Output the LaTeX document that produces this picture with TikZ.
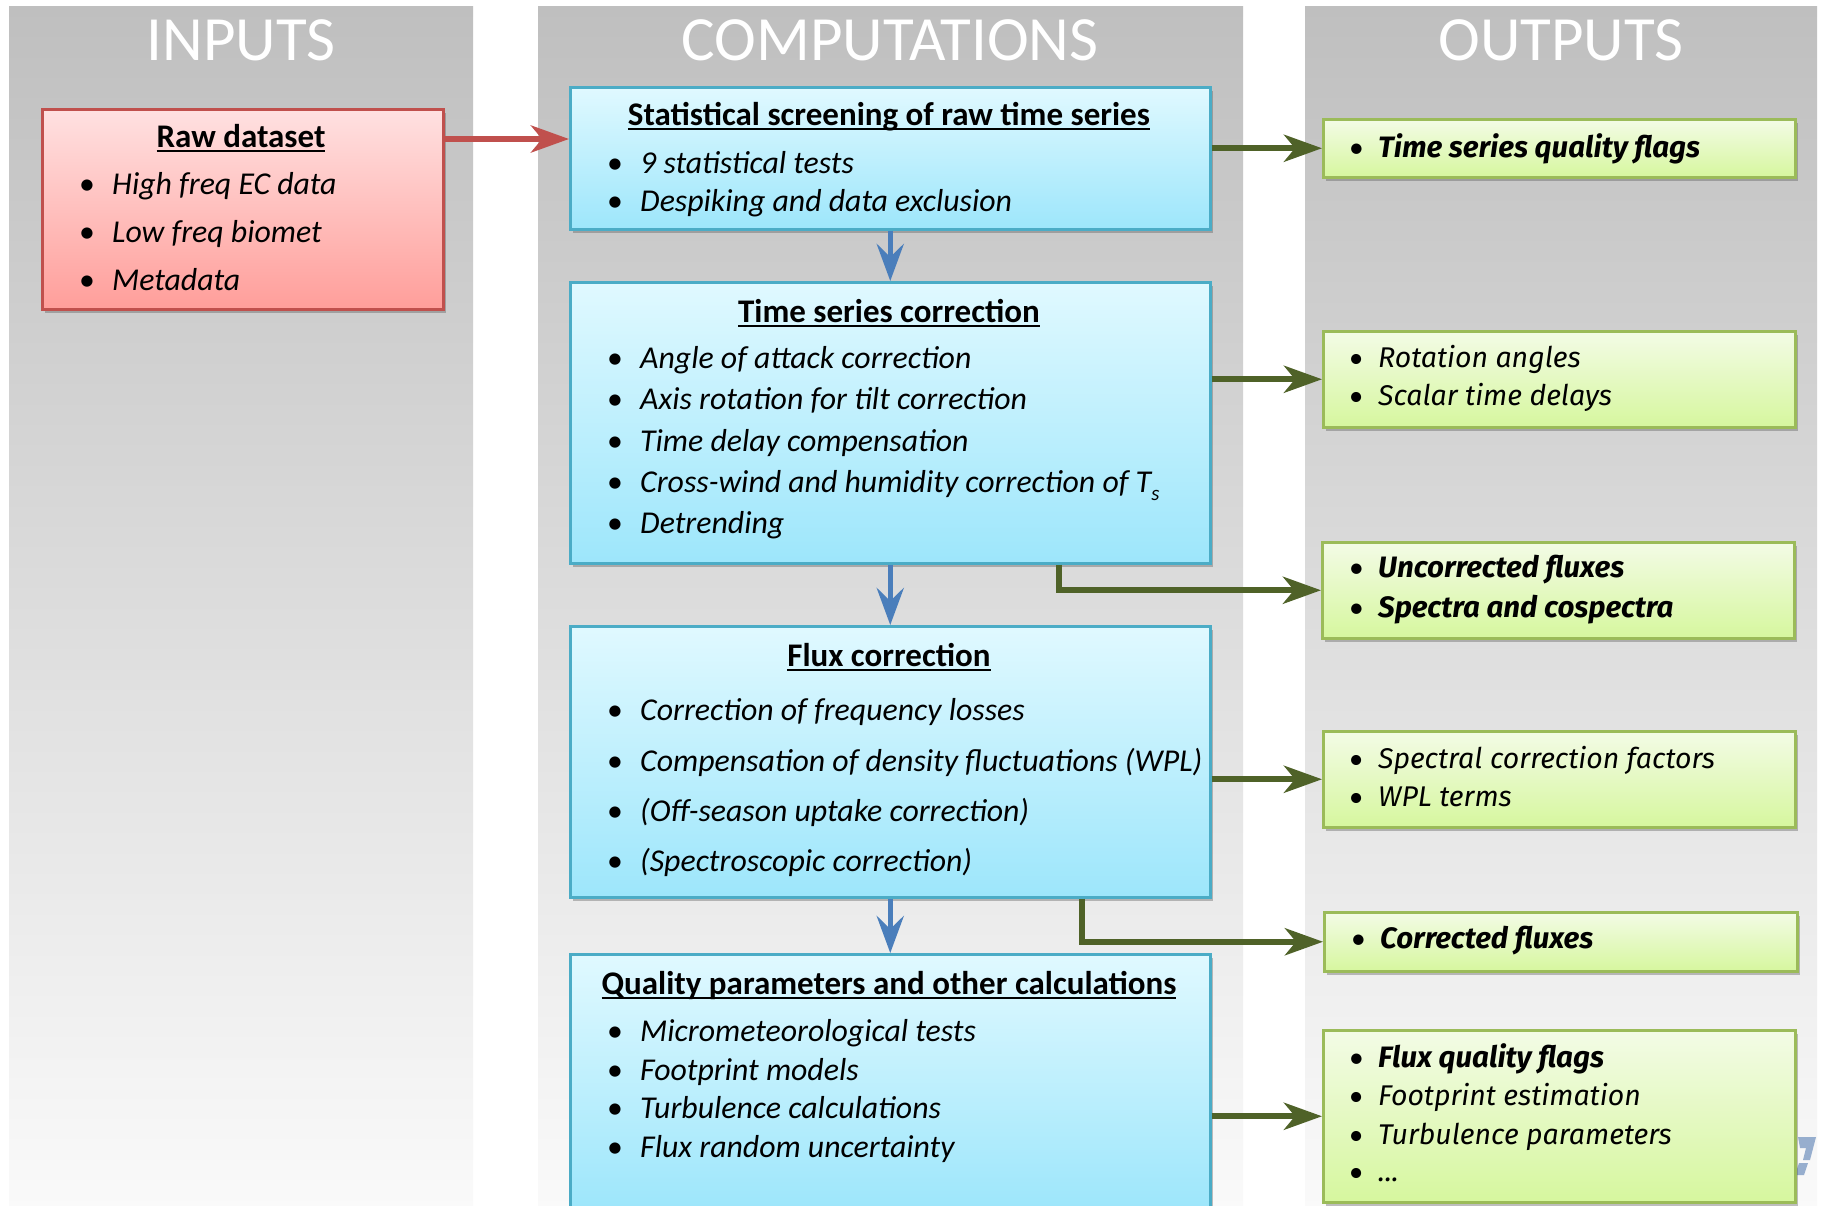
\documentclass[tikz,border=0pt]{standalone}
\usepackage{fontspec}
\setmainfont{Carlito}
\newfontfamily\outfont{Fira Sans}
\usetikzlibrary{arrows.meta,shadows,calc}
\definecolor{colgrayT}{HTML}{BFBFBF}
\definecolor{colgrayB}{HTML}{FAFAFA}
\definecolor{blueT}{HTML}{E0F9FF}
\definecolor{blueB}{HTML}{9DE6FB}
\definecolor{blueBd}{HTML}{4BACC6}
\definecolor{redT}{HTML}{FFE1E1}
\definecolor{redB}{HTML}{FF9E9A}
\definecolor{redBd}{HTML}{C0504D}
\definecolor{grnT}{HTML}{F3FBE6}
\definecolor{grnB}{HTML}{D6F79E}
\definecolor{grnBd}{HTML}{9BBB59}
\definecolor{grnAr}{HTML}{4F6228}
\definecolor{bluAr}{HTML}{4A7EBB}
\definecolor{logoC}{HTML}{7F9CC4}
\newcommand\ttlu[1]{\setbox0\hbox{#1}\rlap{\rule[-4.5pt]{\wd0}{2pt}}\box0}
\newcommand\bul[1]{\makebox[27pt][l]{\kern-6pt\upshape\textbullet}#1}
\newcommand\obul[1]{\makebox[26pt][l]{\kern-3pt{\fontspec{Carlito}\upshape\mdseries\textbullet}}#1}
\begin{document}
\begin{tikzpicture}[x=1pt,y=-1pt,
  colbg/.style={rectangle,inner sep=0,draw=none,top color=colgrayT,bottom color=colgrayB,anchor=north west},
  hdr/.style={anchor=base,inner sep=0,text=white,font=\fontsize{63}{63}\selectfont},
  shd/.style={drop shadow={shadow xshift=3pt,shadow yshift=-4pt,opacity=0.35,fill=black!70}},
  bluebox/.style={rectangle,inner sep=0,anchor=north west,draw=blueBd,line width=2.5pt,top color=blueT,bottom color=blueB,minimum width=640pt,shd},
  redbox/.style={rectangle,inner sep=0,anchor=north west,draw=redBd,line width=2.5pt,top color=redT,bottom color=redB,shd},
  grnbox/.style={rectangle,inner sep=0,anchor=north west,draw=grnBd,line width=2.5pt,top color=grnT,bottom color=grnB,minimum width=472pt,shd},
  ttl/.style={anchor=base,inner sep=0,font=\fontsize{33}{33}\selectfont\bfseries},
  itm/.style={anchor=base west,inner sep=0,font=\fontsize{31.8}{31.8}\selectfont\itshape},
  oitm/.style={anchor=base west,inner sep=0,font=\outfont\fontsize{28.5}{28.5}\selectfont\itshape},
  oitmb/.style={oitm,font=\outfont\fontsize{29.5}{29.5}\selectfont\itshape\bfseries},
  grnar/.style={draw=grnAr,line width=6pt,-{Stealth[length=38pt,width=27pt,inset=11pt]}},
  bluar/.style={draw=bluAr,line width=5.5pt,-{Stealth[length=37pt,width=27pt,inset=13pt]}},
  redar/.style={draw=redBd,line width=6pt,-{Stealth[length=38pt,width=27pt,inset=11pt]}}
]
\useasboundingbox[fill=white] (0,0) rectangle (1822,1205);
% columns
\node[colbg,minimum width=464pt,minimum height=1204pt] (cIn) at (9,6) {};
\node[colbg,minimum width=705pt,minimum height=1204pt] (cComp) at (538,6) {};
\node[colbg,minimum width=512pt,minimum height=1204pt] (cOut) at (1305,6) {};
\node[hdr] (hIn) at (241,60) {INPUTS};
\node[hdr] (hComp) at (890,60) {COMPUTATIONS};
\node[hdr] (hOut) at (1561,60) {OUTPUTS};
% logo fragment
\fill[logoC,opacity=0.8] (1798,1137) -- (1816,1137) -- (1810,1160) -- (1803,1160) -- (1806,1148) -- (1800,1148) -- cycle;
\fill[logoC,opacity=0.8] (1799,1163) -- (1808,1163) -- (1804,1175) -- (1795,1175) -- cycle;
% input
\node[redbox,minimum width=401pt,minimum height=200pt] (raw) at (41,108) {};
\node[ttl] (rawT) at (241,147) {\ttlu{Raw dataset}};
\node[itm] (raw1) at (85,194) {\bul{High freq EC data}};
\node[itm] (raw2) at (85,242) {\bul{Low freq biomet}};
\node[itm] (raw3) at (85,290) {\bul{Metadata}};
% computations
\node[bluebox,minimum height=142pt] (stat) at (569,86) {};
\node[ttl] (statT) at (889,125) {\ttlu{Statistical screening of raw time series}};
\node[itm] (stat1) at (613,173) {\bul{9 statistical tests}};
\node[itm] (stat2) at (613,211) {\bul{Despiking and data exclusion}};

\node[bluebox,minimum height=281pt] (tsc) at (569,281) {};
\node[ttl] (tscT) at (889,322) {\ttlu{Time series correction}};
\node[itm] (tsc1) at (613,368) {\bul{Angle of attack correction}};
\node[itm] (tsc2) at (613,409) {\bul{Axis rotation for tilt correction}};
\node[itm] (tsc3) at (613,451) {\bul{Time delay compensation}};
\node[itm] (tsc4) at (613,492) {\bul{Cross-wind and humidity correction of T\raisebox{-8pt}{\fontsize{21}{21}\selectfont s}}};
\node[itm] (tsc5) at (613,533) {\bul{Detrending}};

\node[bluebox,minimum height=271pt] (flux) at (569,625) {};
\node[ttl] (fluxT) at (889,666) {\ttlu{Flux correction}};
\node[itm] (flux1) at (613,720) {\bul{Correction of frequency losses}};
\node[itm] (flux2) at (613,771) {\bul{Compensation of density fluctuations (WPL)}};
\node[itm] (flux3) at (613,821) {\bul{(Off-season uptake correction)}};
\node[itm] (flux4) at (613,871) {\bul{(Spectroscopic correction)}};

\node[bluebox,minimum height=256pt] (qual) at (569,953) {};
\node[ttl] (qualT) at (889,994) {\ttlu{Quality parameters and other calculations}};
\node[itm] (qual1) at (613,1041) {\bul{Micrometeorological tests}};
\node[itm] (qual2) at (613,1080) {\bul{Footprint models}};
\node[itm] (qual3) at (613,1118) {\bul{Turbulence calculations}};
\node[itm] (qual4) at (613,1157) {\bul{Flux random uncertainty}};
% outputs
\node[grnbox,minimum height=58pt] (o1) at (1322,118) {};
\node[oitmb] (o1a) at (1352,157) {\obul{Time series quality flags}};
\node[grnbox,minimum height=96pt] (o2) at (1322,330) {};
\node[oitm] (o2a) at (1352,367) {\obul{Rotation angles}};
\node[oitm] (o2b) at (1352,405) {\obul{Scalar time delays}};
\node[grnbox,minimum height=96pt] (o3) at (1321,541) {};
\node[oitmb] (o3a) at (1352,577) {\obul{Uncorrected fluxes}};
\node[oitmb] (o3b) at (1352,617) {\obul{Spectra and cospectra}};
\node[grnbox,minimum height=96pt] (o4) at (1322,730) {};
\node[oitm] (o4a) at (1352,768) {\obul{Spectral correction factors}};
\node[oitm] (o4b) at (1352,806) {\obul{WPL terms}};
\node[grnbox,minimum height=59pt,minimum width=473pt] (o5) at (1323,911) {};
\node[oitmb] (o5a) at (1354,948) {\obul{Corrected fluxes}};
\node[grnbox,minimum height=172pt] (o6) at (1322,1029) {};
\node[oitmb] (o6a) at (1352,1067) {\obul{Flux quality flags}};
\node[oitm] (o6b) at (1352,1105) {\obul{Footprint estimation}};
\node[oitm] (o6c) at (1352,1144) {\obul{Turbulence parameters}};
\node[oitm] (o6d) at (1352,1181) {\obul{...}};
% connectors
\coordinate (yR) at (0,139);
\coordinate (xA) at (1059,0);
\coordinate (xB) at (1082,0);
\draw[redar] (raw.east |- yR) -- (stat.west |- yR);
\draw[bluar] (stat.south) -- (tsc.north);
\draw[bluar] (tsc.south) -- (flux.north);
\draw[bluar] (flux.south) -- (qual.north);
\draw[grnar] (stat.east |- o1.west) -- (o1.west);
\draw[grnar] (tsc.east |- o2.west) -- (o2.west);
\draw[grnar] (tsc.south -| xA) |- (o3.west);
\draw[grnar] (flux.east |- o4.west) -- (o4.west);
\draw[grnar] (flux.south -| xB) |- (o5.west);
\draw[grnar] (qual.east |- o6.west) -- (o6.west);
\end{tikzpicture}
\end{document}
